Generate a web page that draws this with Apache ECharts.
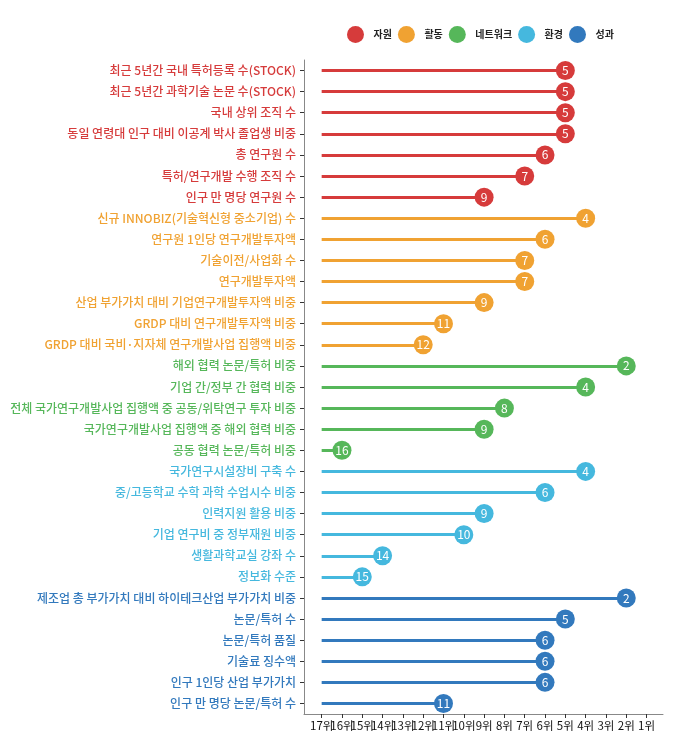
<!DOCTYPE html>
<html>
<head>
<meta charset="utf-8">
<script src="https://cdn.jsdelivr.net/npm/echarts@6/dist/echarts.min.js"></script>
<style>
    html, body { margin: 0; padding: 0; background: #fff; }
    #chart { width: 698px; height: 737px; }
</style>
</head>
<body>
<div id="chart"></div>
<script>
// 그룹(범례) 이름과 색상
const groups = ['자원', '활동', '네트워크', '환경', '성과'];
const groupColors = ['#d63b3b', '#f0a232', '#56b75a', '#45b8de', '#3279bd'];

// 지표 이름 (위에서 아래 순서)
const indicators = [
    '최근 5년간 국내 특허등록 수(STOCK)',
    '최근 5년간 과학기술 논문 수(STOCK)',
    '국내 상위 조직 수',
    '동일 연령대 인구 대비 이공계 박사 졸업생 비중',
    '총 연구원 수',
    '특허/연구개발 수행 조직 수',
    '인구 만 명당 연구원 수',
    '신규 INNOBIZ(기술혁신형 중소기업) 수',
    '연구원 1인당 연구개발투자액',
    '기술이전/사업화 수',
    '연구개발투자액',
    '산업 부가가치 대비 기업연구개발투자액 비중',
    'GRDP 대비 연구개발투자액 비중',
    'GRDP 대비 국비·지자체 연구개발사업 집행액 비중',
    '해외 협력 논문/특허 비중',
    '기업 간/정부 간 협력 비중',
    '전체 국가연구개발사업 집행액 중 공동/위탁연구 투자 비중',
    '국가연구개발사업 집행액 중 해외 협력 비중',
    '공동 협력 논문/특허 비중',
    '국가연구시설장비 구축 수',
    '중/고등학교 수학 과학 수업시수 비중',
    '인력지원 활용 비중',
    '기업 연구비 중 정부재원 비중',
    '생활과학교실 강좌 수',
    '정보화 수준',
    '제조업 총 부가가치 대비 하이테크산업 부가가치 비중',
    '논문/특허 수',
    '논문/특허 품질',
    '기술료 징수액',
    '인구 1인당 산업 부가가치',
    '인구 만 명당 논문/특허 수'
];

// 각 지표의 그룹 번호
const indicatorGroup = [
    0, 0, 0, 0, 0, 0, 0,
    1, 1, 1, 1, 1, 1, 1,
    2, 2, 2, 2, 2,
    3, 3, 3, 3, 3, 3,
    4, 4, 4, 4, 4, 4
];

// 순위
const ranks = [
    5, 5, 5, 5, 6, 7, 9,
    4, 6, 7, 7, 9, 11, 12,
    2, 4, 8, 9, 16,
    4, 6, 9, 10, 14, 15,
    2, 5, 6, 6, 6, 11
];

// x축 눈금 (17위 ~ 1위)
const rankTicks = [17, 16, 15, 14, 13, 12, 11, 10, 9, 8, 7, 6, 5, 4, 3, 2, 1];
const lineStart = 17;

// 라벨이 겹쳐서 숨겨지지 않도록 홀수/짝수 순위를 두 축에 나눠 그림
const oddTicks = rankTicks.filter(v => v % 2 === 1);
const evenTicks = rankTicks.filter(v => v % 2 === 0);

const fontFamily = '"Noto Sans CJK KR", "Noto Sans", sans-serif';
const chart = echarts.init(document.getElementById('chart'));

const scatterSeries = groups.map((name, g) => ({
    name,
    type: 'scatter',
    z: 3,
    symbol: 'circle',
    symbolSize: 19,
    itemStyle: { color: groupColors[g], opacity: 1 },
    label: {
        show: true,
        position: 'inside',
        color: '#fff',
        fontSize: 12,
        fontFamily,
        formatter: p => p.value[0]
    },
    emphasis: { disabled: true },
    data: indicators
        .map((_, i) => i)
        .filter(i => indicatorGroup[i] === g)
        .map(i => [ranks[i], i])
}));

const lineSeries = groups.map((name, g) => ({
    name,
    type: 'lines',
    coordinateSystem: 'cartesian2d',
    z: 1,
    silent: true,
    lineStyle: { color: groupColors[g], width: 3, opacity: 1, curveness: 0 },
    data: indicators
        .map((_, i) => i)
        .filter(i => indicatorGroup[i] === g)
        .map(i => ({ coords: [[lineStart, i], [ranks[i], i]] }))
}));

const rankLabel = values => ({
    customValues: values,
    formatter: v => v + '위',
    color: '#111',
    fontSize: 11.5,
    margin: 6,
    fontFamily
});

chart.setOption({
    animation: false,
    textStyle: { fontFamily },
    legend: {
        data: groups,
        left: 342,
        top: 21,
        icon: 'circle',
        itemWidth: 26,
        itemHeight: 17,
        itemGap: 6,
        textStyle: { fontSize: 10, fontWeight: 'bold', color: '#222', fontFamily }
    },
    grid: {
        left: 304,
        right: 35,
        top: 60,
        bottom: 23,
        containLabel: false
    },
    xAxis: [
        {
            type: 'value',
            position: 'bottom',
            inverse: true,
            min: 0.19,
            max: 17.87,
            splitLine: { show: false },
            axisLine: { show: true, lineStyle: { color: '#888' } },
            axisTick: {
                show: true,
                length: 4,
                customValues: rankTicks,
                lineStyle: { color: '#333' }
            },
            axisLabel: rankLabel(oddTicks)
        },
        {
            type: 'value',
            position: 'bottom',
            offset: 0,
            inverse: true,
            min: 0.19,
            max: 17.87,
            splitLine: { show: false },
            axisLine: { show: false },
            axisTick: { show: false },
            axisLabel: rankLabel(evenTicks)
        }
    ],
    yAxis: {
        type: 'category',
        inverse: true,
        data: indicators,
        axisLine: { show: true, lineStyle: { color: '#888' } },
        axisTick: {
            show: true,
            alignWithLabel: true,
            length: 4,
            lineStyle: { color: '#333' }
        },
        axisLabel: {
            fontSize: 12,
            fontWeight: 500,
            margin: 8,
            fontFamily,
            color: (value, index) => groupColors[indicatorGroup[index]]
        }
    },
    series: scatterSeries.concat(lineSeries)
});
</script>
</body>
</html>
